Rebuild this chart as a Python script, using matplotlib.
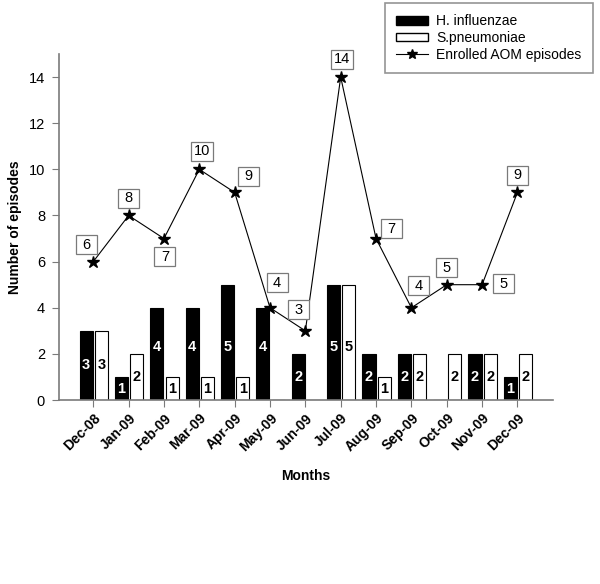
import numpy as np
import matplotlib
matplotlib.use("Agg")
import matplotlib.pyplot as plt
from matplotlib.patches import Patch
from matplotlib.lines import Line2D
from matplotlib.path import Path

plt.rcParams['font.family'] = ['Liberation Sans', 'DejaVu Sans']

# Monthly counts
months = ["Dec-08", "Jan-09", "Feb-09", "Mar-09", "Apr-09", "May-09", "Jun-09",
          "Jul-09", "Aug-09", "Sep-09", "Oct-09", "Nov-09", "Dec-09"]
h_influenzae = [3, 1, 4, 4, 5, 4, 2, 5, 2, 2, 0, 2, 1]
s_pneumoniae = [3, 2, 1, 1, 1, 0, 0, 5, 1, 2, 2, 2, 2]
enrolled = [6, 8, 7, 10, 9, 4, 3, 14, 7, 4, 5, 5, 9]

# where each boxed line label sits relative to its star (pixels)
label_offsets = [(-7, 17), (0, 17), (1, -18), (3, 18), (14, 16), (7, 25), (-7, 21),
                 (1, 18), (15, 10), (7, 22), (0, 17), (21, 1), (0, 17)]

GRAY = "#7a7a7a"


def fixed_box(x0, y0, width, height, mutation_size):
    # SigmaPlot-style label box: roughly the same size whatever the text
    cx, cy = x0 + width / 2, y0 + height / 2
    bw = max(21, width + 6)
    bh = 19
    return Path.unit_rectangle().transformed(
        matplotlib.transforms.Affine2D().scale(bw, bh).translate(cx - bw / 2, cy - bh / 2))


fig = plt.figure(figsize=(6.0, 5.84), dpi=100)
ax = fig.add_axes([0.0983, 0.315, 0.823, 0.5925])

x = np.arange(len(months))
w = 0.37
ax.bar(x - 0.2, h_influenzae, w, color="black", edgecolor="black", linewidth=0.8)
ax.bar(x + 0.23, s_pneumoniae, w, color="white", edgecolor="black", linewidth=0.8)


def bar_label_y(v):
    return v / 2 if v <= 3 else 2.3


for xi, v in zip(x, h_influenzae):
    if v > 0:
        ax.text(xi - 0.2, bar_label_y(v), str(v), color="white", fontsize=10.5,
                fontweight="bold", ha="center", va="center")
for xi, v in zip(x, s_pneumoniae):
    if v > 0:
        ax.text(xi + 0.23, bar_label_y(v), str(v), color="black", fontsize=10.5,
                fontweight="bold", ha="center", va="center")

ax.plot(x, enrolled, color="black", linewidth=0.8, marker="*", markersize=9, zorder=3)

for xi, v, (dx, dy) in zip(x, enrolled, label_offsets):
    ax.annotate(str(v), (xi, v), xytext=(dx, dy), textcoords="offset pixels",
                ha="center", va="center", fontsize=10.5,
                bbox=dict(boxstyle=fixed_box, facecolor="white",
                          edgecolor=GRAY, linewidth=0.9))

ax.set_xlim(-0.97, 13.0)
ax.set_ylim(0, 15)
ax.set_yticks(range(0, 15, 2))
ax.set_xticks(x)
ax.set_xticklabels(months, rotation=45, ha="right", rotation_mode="anchor",
                   fontweight="bold", fontsize=10)
ax.tick_params(axis="y", labelsize=10.5, length=5, color=GRAY, pad=5)
ax.tick_params(axis="x", length=5, color=GRAY, pad=3)

for s in ["top", "right"]:
    ax.spines[s].set_visible(False)
for s in ["left", "bottom"]:
    ax.spines[s].set_color(GRAY)
    ax.spines[s].set_linewidth(1.2)

ax.set_ylabel("Number of episodes", fontweight="bold", fontsize=10)
ax.yaxis.set_label_coords(-0.075, 0.5)
ax.set_xlabel("Months", fontweight="bold", fontsize=10)
ax.xaxis.set_label_coords(0.5, -0.2)

handles = [Patch(facecolor="black", edgecolor="black"),
           Patch(facecolor="white", edgecolor="black"),
           Line2D([], [], color="black", linewidth=0.8, marker="*", markersize=7)]
leg = fig.legend(handles, ["H. influenzae", "S.pneumoniae", "Enrolled AOM episodes"],
                 loc="upper right", bbox_to_anchor=(0.988, 0.995),
                 bbox_transform=fig.transFigure, fontsize=10, fancybox=False,
                 handlelength=2.3, handleheight=0.6, handletextpad=0.6,
                 labelspacing=0.2, borderpad=0.8, borderaxespad=0)
leg.get_frame().set_edgecolor(GRAY)
leg.get_frame().set_linewidth(1.2)

fig.savefig("out.png", dpi=100)
